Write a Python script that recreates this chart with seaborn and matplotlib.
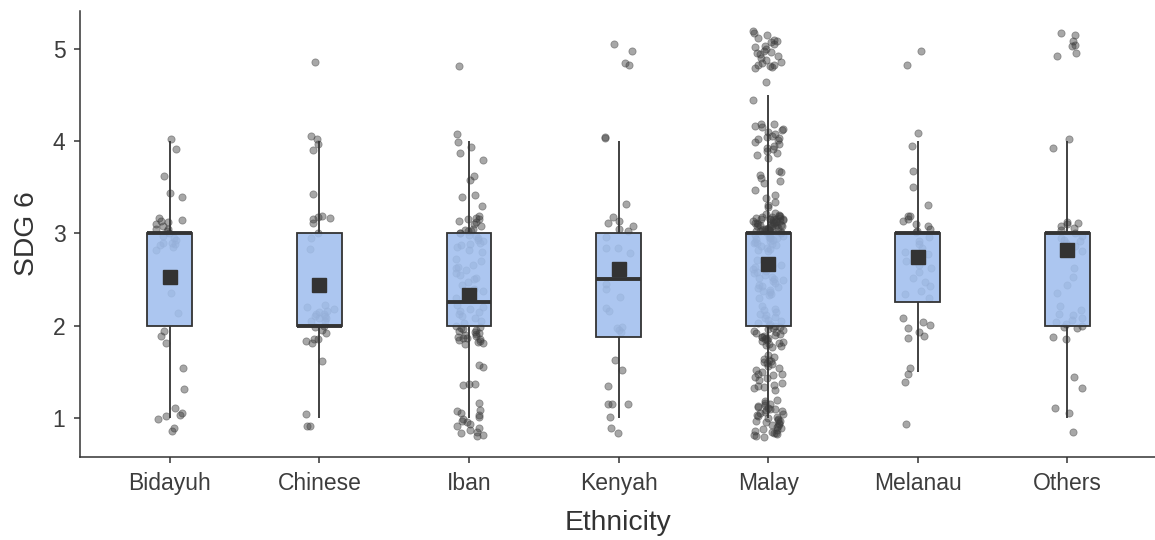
import numpy as np
import pandas as pd
import matplotlib
matplotlib.use('Agg')
import matplotlib.pyplot as plt
import seaborn as sns

# Categorías (orden del eje x)
groups = ['Bidayuh', 'Chinese', 'Iban', 'Kenyah', 'Malay', 'Melanau', 'Others']

# Puntos tal como se ven (con su jitter vertical); la puntuación va en medios puntos
bidayuh = [4.02, 3.91, 3.62, 3.44, 3.39,
           3.14, 3.17, 3.13, 3.10, 3.05, 3.05, 3.00, 2.95, 2.90, 2.88,
           2.85, 2.82, 2.90, 2.97, 3.02, 3.08, 2.93, 3.12, 2.87,
           2.35, 2.14, 1.94, 1.89, 1.81, 1.54, 1.31,
           1.11, 1.05, 1.03, 1.02, 0.99, 0.89, 0.86]

chinese = [4.86, 4.05, 4.02, 3.97, 3.90, 3.43,
           3.18, 3.17, 3.19, 3.15, 3.11, 3.00, 2.95, 2.83, 2.41,
           2.20, 2.15, 2.10, 2.08, 2.16, 2.05, 2.10, 2.12, 2.00, 1.98,
           1.95, 1.85, 1.85, 1.83, 1.81, 2.18, 2.05, 2.22, 2.12, 1.92, 2.08,
           1.62, 1.04, 0.91, 0.91]

iban = [4.81, 4.08, 3.99, 3.94, 3.87, 3.79, 3.62, 3.58, 3.41, 3.39, 3.30,
        3.19, 3.17, 3.15, 3.15, 3.12, 3.10, 3.08, 3.05, 3.04, 3.03, 3.00,
        3.00, 2.97, 2.95, 2.92, 2.90, 2.88, 2.85, 2.82, 2.80, 2.93, 2.98,
        3.02, 2.87, 3.13,
        2.72, 2.70, 2.66, 2.63, 2.60, 2.57, 2.55, 2.52, 2.50, 2.47, 2.44,
        2.40, 2.37, 2.33, 2.30, 2.62,
        2.22, 2.20, 2.18, 2.15, 2.12, 2.10, 2.08, 2.05, 2.03, 2.00, 1.98,
        1.96, 1.95, 1.94, 1.93, 1.92, 1.91, 1.90, 1.89, 1.88, 1.87, 1.86,
        1.85, 1.84, 1.83, 1.82, 1.81, 1.80, 2.16, 1.97,
        1.57, 1.55, 1.37, 1.37, 1.36,
        1.16, 1.08, 1.07, 1.05, 1.03, 1.01, 0.99, 0.97, 0.95, 0.93, 0.91,
        0.89, 0.87, 0.85, 0.83, 0.81, 0.80]

kenyah = [5.05, 4.98, 4.85, 4.82, 4.04, 4.03, 3.32,
          3.18, 3.13, 3.11, 3.08, 3.05, 3.03, 2.96, 2.84, 2.84, 2.79,
          2.58, 2.45, 2.40, 2.31, 2.19, 2.16, 1.97, 1.95, 1.93, 1.98,
          1.63, 1.52, 1.34, 1.15, 1.15, 1.15, 1.01, 0.89, 0.83]

malay = [5.19, 5.17, 5.15, 5.12, 5.10, 5.08, 5.07, 5.05, 5.03, 5.02,
         5.00, 4.98, 4.97, 4.95, 4.94, 4.92, 4.90, 4.88, 4.86, 4.85,
         4.83, 4.82, 4.81, 4.80, 4.79,
         4.64, 4.44,
         4.19, 4.18, 4.16, 4.15, 4.13, 4.12, 4.10, 4.08, 4.06, 4.04,
         4.03, 4.02, 4.01, 3.99, 3.97, 3.95, 3.93, 3.91, 3.89, 3.87,
         3.85, 3.82,
         3.68, 3.66, 3.63, 3.60, 3.57, 3.55, 3.47, 3.42, 3.38, 3.34, 3.31, 3.28,
         3.21, 3.04, 3.17, 2.93, 3.09, 3.13, 2.86, 3.01, 3.19, 3.06,
         2.97, 3.11, 3.15, 2.82, 3.02, 3.08, 2.91, 3.18, 3.05, 3.12,
         2.95, 3.16, 3.03, 2.88, 3.10, 3.14, 2.99, 3.07, 3.20, 2.84,
         3.01, 3.11, 2.94, 3.05, 3.17, 2.89, 3.13, 3.02, 3.09, 2.96,
         3.15, 3.06, 2.81, 3.19, 3.03, 3.12, 2.92, 3.08, 3.16, 3.00,
         2.87, 3.10, 3.04, 3.14, 2.98, 3.18, 3.07, 2.90, 3.13, 3.02,
         3.22, 2.95, 3.09, 3.05, 2.83, 3.11, 3.16, 3.01, 2.97, 3.08,
         2.71, 2.64, 2.58, 2.52, 2.46, 2.39, 2.33, 2.68, 2.61, 2.55,
         2.49, 2.42, 2.36, 2.30, 2.66, 2.59, 2.53, 2.44, 2.38, 2.69,
         2.62, 2.57, 2.48, 2.41, 2.34, 2.65, 2.51, 2.43,
         2.21, 2.15, 2.08, 2.03, 1.98, 1.94, 1.91, 1.88, 1.85, 1.82,
         1.79, 2.18, 2.11, 2.05, 1.99, 1.96, 1.92, 1.89, 1.86, 1.83,
         1.80, 2.13, 2.06, 2.01, 1.97, 1.93, 1.90, 1.87, 1.84, 1.81,
         2.17, 2.09, 1.95, 1.78, 2.02, 1.88, 1.77,
         1.66, 1.63, 1.60, 1.59, 1.52, 1.50, 1.48, 1.46, 1.38, 1.35,
         1.32, 1.30, 1.64, 1.56, 1.44, 1.41, 1.36, 1.62, 1.54, 1.47,
         1.33, 1.58, 1.43, 1.68,
         1.18, 1.04, 0.92, 1.12, 0.84, 1.07, 0.97, 1.15, 0.81, 1.01,
         0.89, 1.09, 0.95, 1.16, 0.83, 1.03, 0.90, 1.11, 0.86, 0.99,
         1.06, 0.80, 1.13, 0.94, 1.02, 0.87, 1.19, 0.96, 1.08, 0.82,
         1.00, 0.93, 1.14, 0.85, 1.05, 0.91, 0.98, 1.10, 0.88, 0.79]

melanau = [4.98, 4.82, 4.09, 3.95, 3.68, 3.50, 3.31,
           3.19, 3.19, 3.16, 3.13, 3.10, 3.08, 3.05, 3.03, 3.01, 2.96,
           2.92, 2.88, 2.84, 2.80, 2.78,
           2.70, 2.66, 2.62, 2.58, 2.52, 2.47, 2.43, 2.38, 2.34, 2.30,
           2.08, 2.04, 2.01, 1.97, 1.93, 1.89, 1.86,
           1.54, 1.39, 1.47, 0.93]

others = [5.17, 5.15, 5.09, 5.04, 5.03, 4.96, 4.92, 4.02, 3.92,
          3.12, 3.11, 3.10, 3.08, 3.04, 2.93, 2.92, 2.97, 2.86, 2.81,
          3.00, 2.95, 2.89, 3.06,
          2.62, 2.53, 2.44, 2.35,
          2.17, 2.13, 2.08, 2.04, 2.00, 1.98, 1.97, 1.88, 1.85, 2.21,
          2.11, 2.06, 2.02,
          1.44, 1.32, 1.11, 1.05, 0.85]

series = [bidayuh, chinese, iban, kenyah, malay, melanau, others]

df = pd.DataFrame({
    'Ethnicity': np.repeat(groups, [len(s) for s in series]),
    'shown': np.concatenate(series),
})
# Puntuación real: escala en medios puntos
df['score'] = np.round(df['shown'] * 2) / 2

sns.set_theme(style='ticks')
plt.rcParams['font.family'] = ['Liberation Sans', 'DejaVu Sans']

fig, ax = plt.subplots(figsize=(11.55, 5.4), dpi=100)
fig.subplots_adjust(left=0.0693, right=1.0, bottom=0.1537, top=0.9796)

# puntos debajo de las cajas
np.random.seed(3)
sns.stripplot(data=df, x='Ethnicity', y='shown', order=groups, jitter=0.1,
              color='#3c3c3c', alpha=0.45, size=5.2, linewidth=0.6,
              edgecolor='#3c3c3c', zorder=0.5, ax=ax)

sns.boxplot(data=df, x='Ethnicity', y='score', order=groups, width=0.3,
            color='#A1BFEE', saturation=1, linecolor='#333333', linewidth=1.3,
            showfliers=False, showcaps=False, showmeans=True,
            meanprops=dict(marker='s', markerfacecolor='#333333',
                           markeredgecolor='#333333', markersize=10.3),
            medianprops=dict(linewidth=2.8), ax=ax)

for patch in ax.patches:
    patch.set_facecolor((161/255, 191/255, 238/255, 0.88))
    patch.set_zorder(1)

ax.set_xlim(-0.6, 6.585)
ax.set_ylim(0.575, 5.41)
ax.set_yticks([1, 2, 3, 4, 5])

ax.set_xlabel('Ethnicity', fontsize=20.3, color='#333333', labelpad=11)
ax.set_ylabel('SDG 6', fontsize=20.3, color='#333333', labelpad=9)
ax.tick_params(axis='both', labelsize=16.5, labelcolor='#3d3d3d',
               color='#333333', length=4.5, width=1.1, pad=6)
sns.despine(ax=ax)
for side in ['left', 'bottom']:
    ax.spines[side].set_color('#333333')
    ax.spines[side].set_linewidth(1.1)

plt.savefig('out.png', dpi=100)
